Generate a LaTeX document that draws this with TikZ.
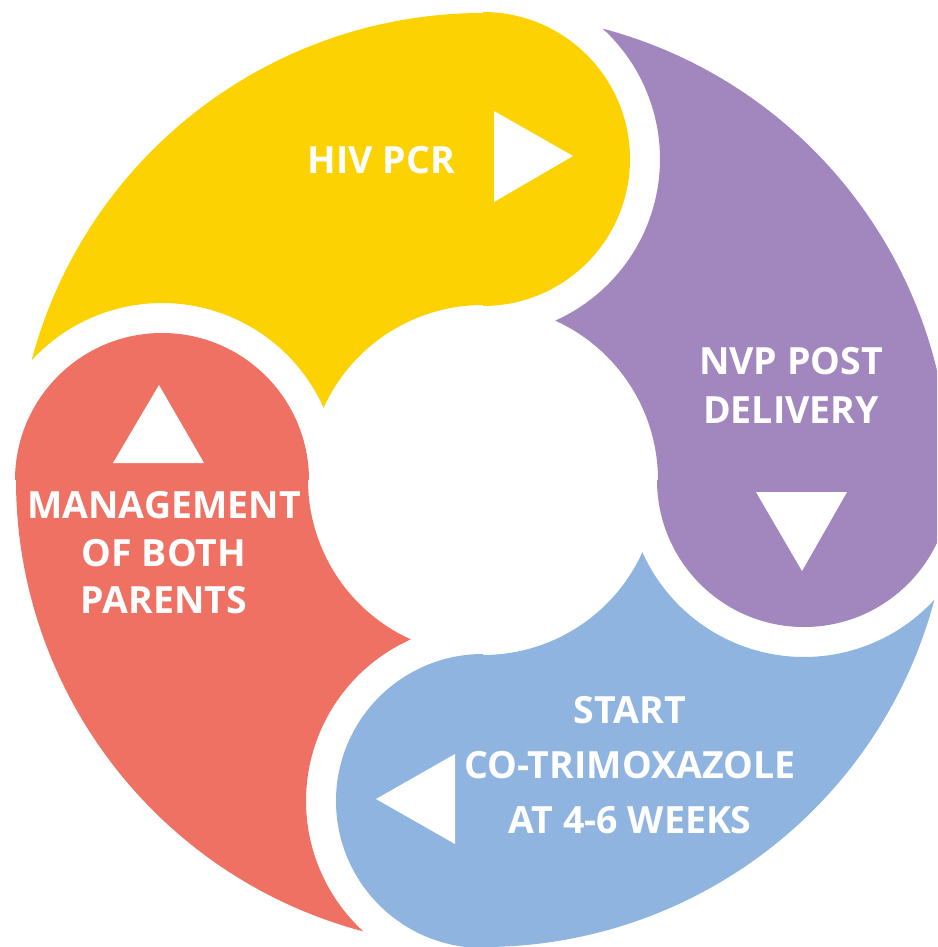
\documentclass[tikz,border=0pt]{standalone}
\usepackage{fontspec}
\setmainfont{Open Sans}
\definecolor{cyellow}{HTML}{FDD203}
\definecolor{cpurple}{HTML}{A286BE}
\definecolor{cblue}{HTML}{8EB4DF}
\definecolor{cred}{HTML}{EE7163}
\begin{document}
\begin{tikzpicture}[x=1pt,y=1pt,
  lbl/.style={text=white, align=center, inner sep=0pt},
  tri/.style={fill=white},
  segshape/.style={insert path={(90:467) arc[start angle=90,end angle=\phiA,radius=467]
     arc[start angle=\alA,end angle=\alB,radius=177]
     arc[start angle=\psiA,end angle=90,radius=175]
     -- (0,174) arc[start angle=-90,end angle=90,radius=147] -- cycle}}]
\useasboundingbox (0,0) rectangle (937,-947);
\clip (0,0) rectangle (937,-947);
% geometry in units of 100px
\pgfmathsetmacro\Ro{4.67}
\pgfmathsetmacro\Ri{1.75}
\pgfmathsetmacro\Rm{3.21}
\pgfmathsetmacro\Rb{1.77}
\pgfmathsetmacro\cphi{(\Rb*\Rb-\Ro*\Ro-\Rm*\Rm)/(2*\Ro*\Rm)}
\pgfmathsetmacro\phiA{acos(\cphi)}
\pgfmathsetmacro\cpsi{(\Rb*\Rb-\Ri*\Ri-\Rm*\Rm)/(2*\Ri*\Rm)}
\pgfmathsetmacro\psiA{acos(\cpsi)}
\pgfmathsetmacro\alA{atan2(\Ro*sin(\phiA),\Ro*cos(\phiA)+\Rm)}
\pgfmathsetmacro\alB{atan2(\Ri*sin(\psiA),\Ri*cos(\psiA)+\Rm)}
\begin{scope}[shift={(483,-480)}]
  \fill[cyellow, segshape];
  \begin{scope}[rotate=-90] \fill[cpurple, segshape]; \end{scope}
  \begin{scope}[rotate=-180] \fill[cblue, segshape]; \end{scope}
  \begin{scope}[rotate=-270] \fill[cred, segshape]; \end{scope}
\end{scope}
% arrows
\fill[tri] (494,-111) -- (494,-202) -- (573,-156) -- cycle;
\fill[tri] (756,-492) -- (847,-492) -- (802,-571) -- cycle;
\fill[tri] (455,-754) -- (455,-844) -- (376,-799) -- cycle;
\fill[tri] (113,-463) -- (204,-463) -- (159,-385) -- cycle;
% labels
\node[lbl, font=\bfseries\fontsize{37.5}{49}\selectfont] (hiv) at (381.5,-160.5) {HIV PCR};
\node[lbl, font=\bfseries\fontsize{37.5}{49}\selectfont] (nvp) at (791,-385) {NVP POST\\DELIVERY};
\node[lbl, font=\bfseries\fontsize{37.5}{55}\selectfont] (cotri) at (630,-765.5) {START\\CO-TRIMOXAZOLE\\AT 4-6 WEEKS};
\node[lbl, font=\bfseries\fontsize{37.5}{47.5}\selectfont] (mgmt) at (164,-553) {MANAGEMENT\\OF BOTH\\PARENTS};
\end{tikzpicture}
\end{document}
